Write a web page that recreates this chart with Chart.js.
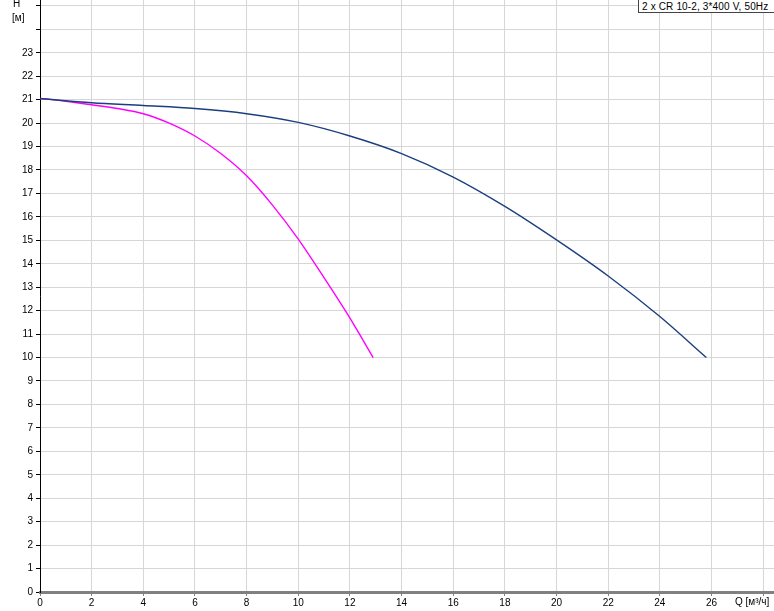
<!DOCTYPE html>
<html>
<head>
<meta charset="utf-8">
<script src="https://cdn.jsdelivr.net/npm/chart.js@4"></script>
<style>
  html, body { margin: 0; padding: 0; background: #fff; }
  #wrap { position: relative; width: 774px; height: 611px; overflow: hidden; font-family: "Liberation Sans", Arial, sans-serif; }
  canvas { position: absolute; left: 0; top: 0; }
  .lbl { position: absolute; font-size: 10px; color: #000; white-space: nowrap; line-height: 10px; }
  #legend { position: absolute; left: 638px; top: -1px; width: 134px; height: 12px; border: 1px solid #444; background: #fff; font-size: 10px; line-height: 13px; padding-left: 3px; box-sizing: content-box; white-space: nowrap; letter-spacing: 0.15px; }
</style>
</head>
<body>
<div id="wrap">
  <canvas id="c" width="774" height="611"></canvas>
  <div class="lbl" style="left:13px; top:-1px;">H</div>
  <div class="lbl" style="left:12px; top:13px;">[м]</div>
  <div class="lbl" style="left:735px; top:597px;">Q [м³/ч]</div>
  <div id="legend">2 x CR 10-2, 3*400 V, 50Hz</div>
</div>
<script>
// Data
const curveAQ = [0, 2, 4, 6, 8, 10, 12, 14, 16, 18, 20, 22, 24, 25.8];
const curveAH = [21.05, 20.87, 20.75, 20.62, 20.4, 20.03, 19.45, 18.7, 17.7, 16.45, 15.02, 13.48, 11.75, 10.0];
const curveBQ = [0, 1, 2, 3, 4, 5, 6, 7, 8, 9, 10, 11, 12, 12.9];
const curveBH = [21.05, 20.93, 20.78, 20.62, 20.4, 20.0, 19.45, 18.7, 17.75, 16.5, 15.05, 13.4, 11.68, 10.0];
const xTickMaxLabel = 26;
const yTickMaxLabel = 23;

const toPts = (xs, ys) => xs.map((x, i) => ({ x: x, y: ys[i] }));

new Chart(document.getElementById('c'), {
  type: 'line',
  data: {
    datasets: [
      { data: toPts(curveAQ, curveAH), borderColor: '#1b3f7e', borderWidth: 1.4, pointRadius: 0, cubicInterpolationMode: 'monotone', fill: false },
      { data: toPts(curveBQ, curveBH), borderColor: '#ff00ff', borderWidth: 1.4, pointRadius: 0, cubicInterpolationMode: 'monotone', fill: false }
    ]
  },
  options: {
    responsive: false,
    animation: false,
    layout: { padding: 0 },
    plugins: { legend: { display: false }, tooltip: { enabled: false } },
    scales: {
      x: {
        type: 'linear', min: 0, max: 28.42,
        afterFit: s => { s.height = 19; s.paddingLeft = 0; s.paddingRight = 0; },
        border: { color: '#808080', width: 3 },
        grid: { color: '#d6d6d6', lineWidth: 1, tickLength: 4, tickColor: '#808080' },
        ticks: { stepSize: 2, includeBounds: false, maxRotation: 0, autoSkip: false, padding: 1, color: '#000',
                 font: { family: 'Liberation Sans', size: 10 },
                 callback: v => v <= xTickMaxLabel ? v : '' }
      },
      y: {
        type: 'linear', min: 0, max: 25.25,
        afterFit: s => { s.width = 40; s.paddingTop = 0; s.paddingBottom = 0; },
        border: { color: '#000', width: 1 },
        grid: { color: '#d6d6d6', lineWidth: 1, tickLength: 4, tickColor: '#000' },
        ticks: { stepSize: 1, includeBounds: false, autoSkip: false, padding: 3, color: '#000',
                 font: { family: 'Liberation Sans', size: 10 },
                 callback: v => v <= yTickMaxLabel ? v : '' }
      }
    }
  }
});
</script>
</body>
</html>
